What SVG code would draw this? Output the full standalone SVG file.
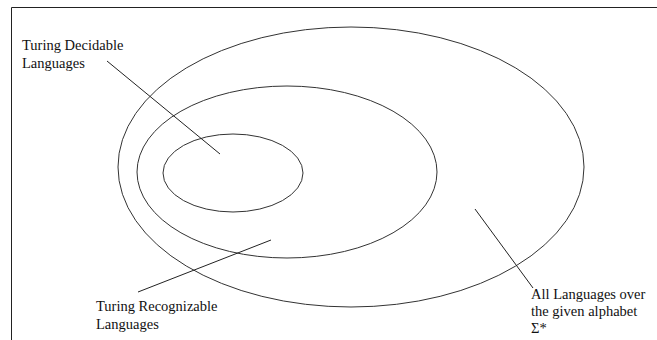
<svg xmlns="http://www.w3.org/2000/svg" width="657" height="340" viewBox="0 0 657 340">
<style>
.sh{fill:none;stroke:#333;stroke-width:1}
.ln{fill:none;stroke:#222;stroke-width:1}
.t{font-family:"Liberation Serif","Times New Roman",serif;font-size:14.5px;fill:#111}
</style>
<rect width="657" height="340" fill="#fff"/>
<g id="frame">
<polyline class="ln" points="11.5,340 11.5,7.5 657,7.5"/>
</g>
<g id="all-languages">
<ellipse class="sh" cx="351" cy="167" rx="233" ry="140"/>
<text class="t" x="531" y="299">All Languages over</text>
<text class="t" x="531" y="316">the given alphabet</text>
<text class="t" x="531" y="333">Σ*</text>
</g>
<g id="turing-recognizable">
<ellipse class="sh" cx="287" cy="172" rx="150" ry="86"/>
<text class="t" x="96" y="311">Turing Recognizable</text>
<text class="t" x="96" y="329">Languages</text>
</g>
<g id="turing-decidable">
<ellipse class="sh" cx="233" cy="173" rx="70" ry="39"/>
<text class="t" x="22" y="50">Turing Decidable</text>
<text class="t" x="22" y="68">Languages</text>
</g>
<g id="connectors">
<line class="ln" x1="107" y1="61" x2="220" y2="154"/>
<line class="ln" x1="138" y1="292" x2="271" y2="240"/>
<line class="ln" x1="475" y1="209" x2="533" y2="288"/>
</g>
</svg>
